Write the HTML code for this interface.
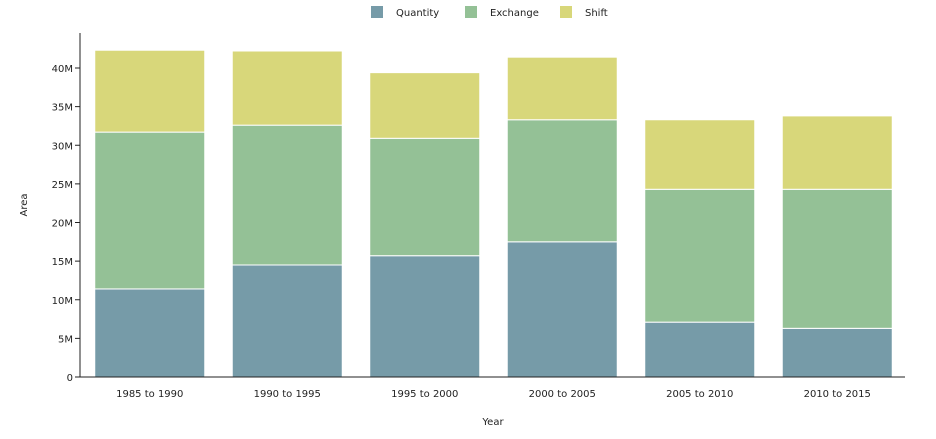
<!DOCTYPE html>
<html><head><meta charset="utf-8"><style>
body{margin:0;background:#fff;font-family:"DejaVu Sans","Liberation Sans",sans-serif}
svg text{font-size:10px;fill:#222}
</style></head><body>
<svg id="c" width="936" height="435"></svg>
<script>
const categories=["1985 to 1990","1990 to 1995","1995 to 2000","2000 to 2005","2005 to 2010","2010 to 2015"];
const quantity=[11.4,14.5,15.7,17.5,7.1,6.3];
const exchange=[20.3,18.1,15.2,15.8,17.2,18.0];
const shift=[10.6,9.6,8.5,8.1,9.0,9.5];
const yTicks=[0,5,10,15,20,25,30,35,40];
const seriesNames=["Quantity","Exchange","Shift"];
const colors=["#769ba8","#94c196","#d8d77a"];
const NS="http://www.w3.org/2000/svg",svg=document.getElementById('c');
const L=80,R=905,T=33,B=377;
const y=v=>B-v*7.725;
const band=(R-L)/categories.length,bw=110;
const x=i=>L+band*i+(band-bw)/2+1;
function el(t,a,txt){const e=document.createElementNS(NS,t);for(const k in a)e.setAttribute(k,a[k]);if(txt!=null)e.textContent=txt;svg.appendChild(e);return e;}
const series=[quantity,exchange,shift];
categories.forEach((c,i)=>{let base=0;series.forEach((s,j)=>{
const r=el('rect',{x:x(i),y:y(base+s[i]),width:bw,height:y(base)-y(base+s[i]),fill:colors[j],stroke:'#fff','stroke-width':1});


base+=s[i];});
const t=el('text',{x:x(i)+bw/2,y:397,'text-anchor':'middle'},c);


});
const ya=el('line',{x1:L,y1:T,x2:L,y2:B,stroke:'#222'});

const xa=el('line',{x1:L,y1:B,x2:R,y2:B,stroke:'#222'});

yTicks.forEach(v=>{el('line',{x1:L-5,y1:y(v),x2:L,y2:y(v),stroke:'#222'});
const t=el('text',{x:L-7,y:y(v)+4,'text-anchor':'end'},v?v+'M':'0');
});
const xt=el('text',{x:493,y:425,'text-anchor':'middle'},'Year');

const yt=el('text',{x:27,y:205,'text-anchor':'middle',transform:'rotate(-90 27 205)'},'Area');

const lx=[371,465,560];
seriesNames.forEach((n,j)=>{const g=el('rect',{x:lx[j],y:6,width:12,height:12,fill:colors[j]});

const t=el('text',{x:lx[j]+25,y:16},n);
});
</script>
</body></html>
